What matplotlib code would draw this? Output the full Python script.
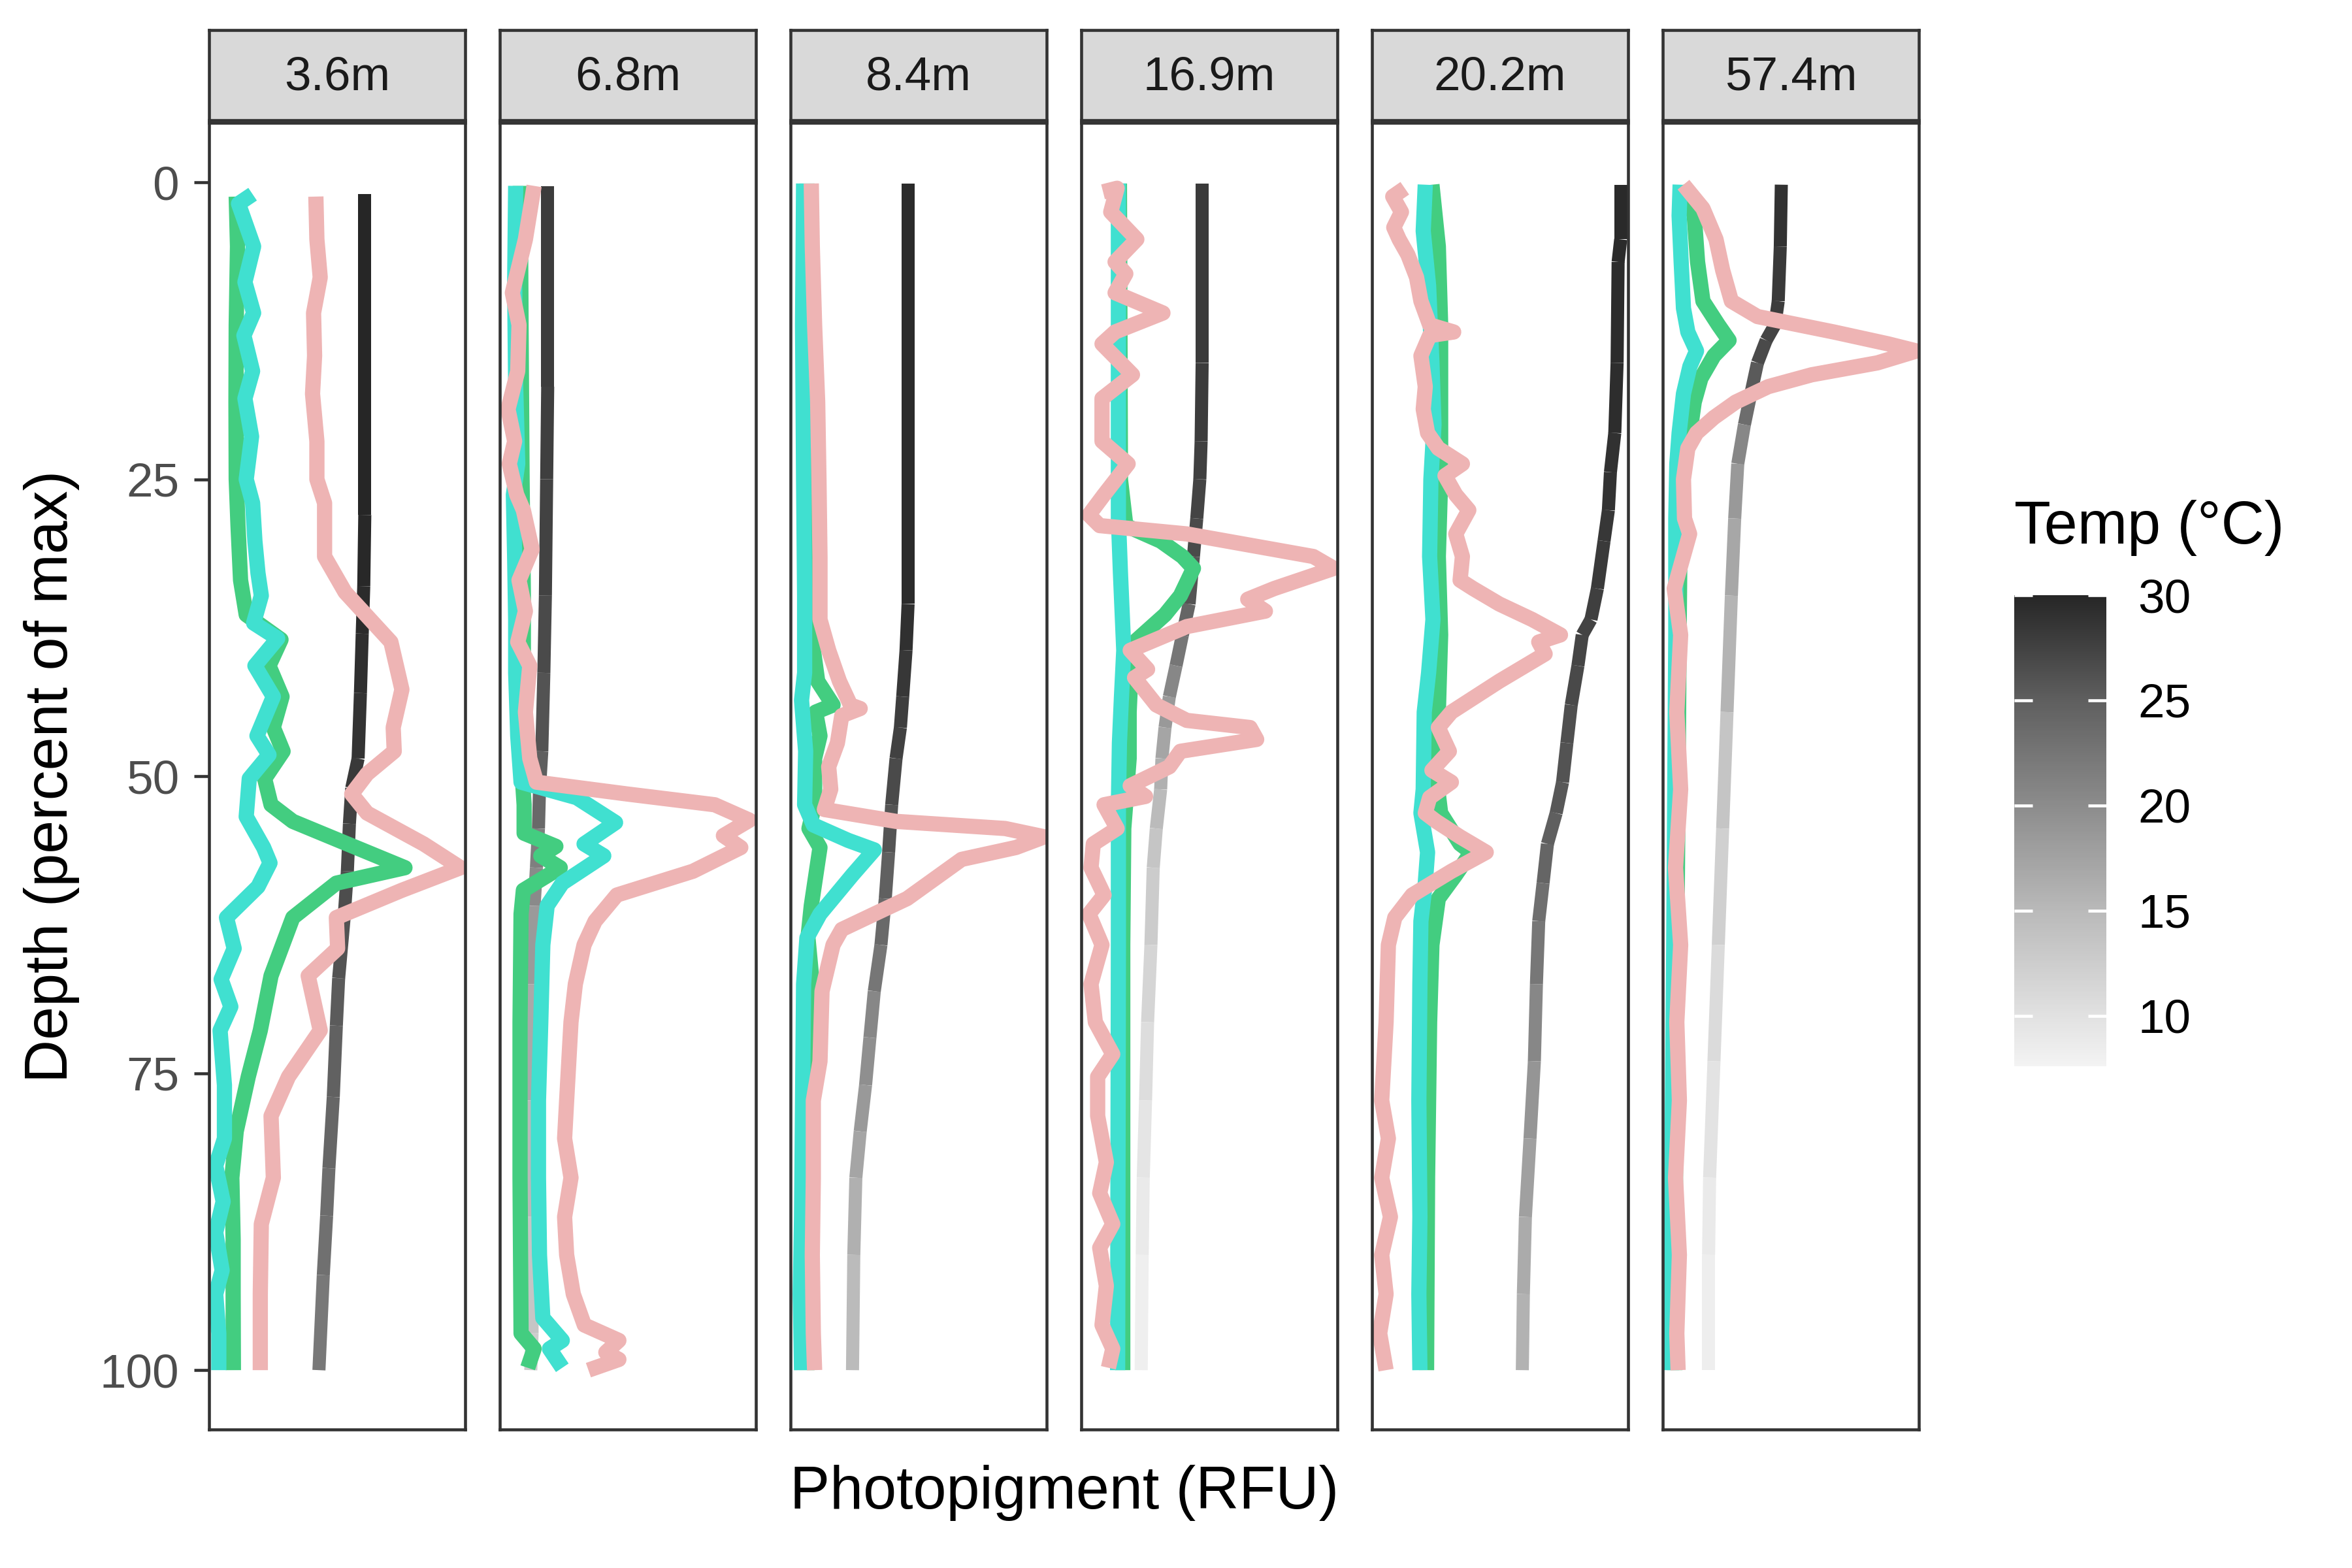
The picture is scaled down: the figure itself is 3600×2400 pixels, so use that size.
import numpy as np
import matplotlib.pyplot as plt
from matplotlib.collections import LineCollection
from matplotlib.colors import LinearSegmentedColormap, Normalize
from matplotlib.cm import ScalarMappable

plt.rcParams["font.family"] = ["Liberation Sans", "DejaVu Sans"]

# %% data
# x positions are relative to each panel (free x scale, no tick labels), 0-100

stations = ["3.6m", "6.8m", "8.4m", "16.9m", "20.2m", "57.4m"]

# temperature profile: (depth %, x, temp C)
temp_36 = [(1, 60.8, 30.0), (28, 60.8, 29.8), (34, 60.4, 29.5), (38, 59.8, 29.2), (43, 59.1, 28.8),
           (48.5, 58.2, 28.3), (51, 55.7, 27.6), (54, 54.8, 27.0), (58, 54.0, 26.5), (62, 52.7, 26.0),
           (67, 50.6, 25.3), (71, 49.7, 24.8), (77, 48.5, 24.2), (83, 46.8, 23.5), (87, 45.9, 23.0),
           (92, 44.6, 22.2), (100, 42.9, 21.3)]
temp_68 = [(0.3, 18.7, 28.0), (17.2, 18.7, 27.8), (25, 18.3, 27.5), (34.8, 17.8, 26.8), (41.3, 17.2, 26.0),
           (47.9, 16.4, 25.0), (51.1, 15.5, 23.8), (54.4, 15.1, 21.5), (57.7, 14.3, 20.2), (60.9, 13.4, 18.5),
           (67.5, 13.0, 16.8), (77.3, 12.6, 15.0), (87.1, 12.4, 13.5), (96.9, 12.6, 12.5), (100, 12.1, 12.3)]
temp_84 = [(0.1, 45.9, 29.5), (35.5, 45.9, 29.1), (39.4, 45.1, 28.5), (43.3, 43.8, 27.9), (45.9, 42.9, 27.6),
           (48.5, 41.2, 26.8), (52.4, 39.5, 25.9), (56.4, 38.3, 24.9), (60.3, 37.0, 23.8), (64.2, 35.3, 22.4),
           (68.1, 32.7, 20.5), (72.0, 31.0, 19.6), (76.0, 29.3, 18.6), (79.9, 27.2, 17.2), (83.8, 25.5, 16.0),
           (90.3, 24.7, 14.8), (100, 24.2, 14.2)]
temp_169 = [(0.1, 47.2, 28.2), (15.2, 47.2, 28.0), (21.8, 46.8, 27.7), (25, 46.3, 27.3), (28.3, 45.1, 26.8),
            (31.5, 43.8, 25.9), (35.5, 42.1, 24.3), (38.1, 39.5, 22.4), (40.7, 37.0, 20.5), (43.3, 34.4, 18.6),
            (45.9, 32.7, 17.2), (48.5, 31.5, 16.0), (51.1, 31.0, 14.8), (54.4, 29.3, 13.5), (57.7, 28.1, 12.6),
            (64.2, 27.2, 11.5), (70.7, 25.9, 10.5), (77.3, 25.1, 9.5), (83.8, 24.2, 8.8), (90.3, 23.8, 8.2),
            (100, 23.4, 7.8)]
temp_202 = [(0.2, 97.1, 29.6), (4.8, 97.1, 29.5), (6.7, 96.1, 29.4), (15.2, 95.7, 29.3), (21.1, 94.8, 29.0),
            (24.4, 93.1, 28.8), (27.6, 92.3, 28.5), (30.2, 90.6, 28.2), (34.2, 88.0, 27.8), (36.8, 85.5, 27.4),
            (38.1, 82.1, 27.2), (40.7, 80.4, 26.9), (44.0, 77.8, 26.4), (47.2, 76.1, 26.0), (50.5, 74.4, 25.6),
            (53.1, 71.9, 25.0), (55.7, 68.5, 24.3), (59.0, 66.8, 23.2), (62.2, 65.1, 22.3), (67.5, 64.2, 20.6),
            (74.0, 63.4, 19.0), (80.5, 61.7, 17.8), (87.1, 59.9, 16.6), (93.6, 59.1, 15.8), (100, 58.7, 15.3)]
temp_574 = [(0.2, 46.3, 28.9), (5.4, 45.9, 28.3), (10.0, 45.1, 28.0), (12.0, 43.8, 27.3), (13.3, 40.4, 26.8),
            (15.2, 37.0, 25.4), (17.8, 34.4, 23.4), (20.4, 31.9, 20.5), (23.7, 29.3, 18.6), (28.3, 28.1, 17.0),
            (34.8, 26.8, 15.5), (44.6, 25.1, 13.5), (54.4, 23.4, 12.1), (64.2, 21.7, 10.8), (74.0, 20.0, 9.8),
            (83.8, 18.3, 8.9), (90.3, 17.9, 8.3), (100, 17.9, 7.6)]

# pigment profiles: (depth %, x)
turq_36 = [(1.0, 17.0), (1.8, 11.5), (5.4, 17.4), (8.4, 14.0), (11.0, 17.4), (12.9, 13.6), (15.9, 17.0),
           (18.2, 14.0), (21.4, 16.6), (25.0, 14.5), (27.0, 17.0), (30.2, 17.9), (32.9, 19.1), (34.8, 20.4),
           (37.1, 17.4), (38.4, 26.8), (40.7, 17.9), (43.3, 25.1), (46.6, 18.7), (48.2, 23.4), (50.2, 15.7),
           (53.4, 14.5), (56.0, 21.3), (57.3, 23.8), (59.3, 19.1), (61.9, 6.8), (64.5, 9.8), (67.1, 4.7),
           (69.4, 8.5), (71.4, 4.3), (76.0, 6.0), (80.5, 6.0), (82.8, 2.6), (85.8, 5.5), (88.4, 2.6),
           (91.6, 5.1), (93.6, 2.6), (96.9, 3.8), (100, 3.8)]
green_36 = [(1.2, 10.6), (5.4, 11.1), (12.0, 10.6), (18.5, 10.5), (25.0, 10.6), (28.9, 11.3), (33.5, 12.3),
            (36.4, 14.5), (38.5, 28.1), (40.7, 23.4), (43.3, 28.5), (45.9, 25.1), (47.9, 28.9), (50.2, 21.7),
            (52.4, 24.2), (53.8, 32.7), (55.7, 54.0), (57.7, 76.5), (59.0, 49.7), (61.9, 32.7), (66.8, 24.2),
            (71.4, 20.0), (75.3, 15.3), (79.9, 10.6), (83.8, 8.9), (89.0, 9.4), (93.6, 9.4), (100, 9.5)]
pink_36 = [(1.2, 41.7), (4.8, 42.1), (8.0, 43.4), (11.0, 40.8), (14.6, 41.2), (17.8, 40.4), (21.8, 42.1),
           (25.0, 42.1), (27.0, 45.1), (31.5, 45.1), (34.5, 53.1), (38.7, 71.0), (42.7, 75.3), (45.9, 71.9),
           (47.9, 72.3), (49.8, 61.7), (51.5, 55.7), (53.1, 61.7), (55.7, 83.8), (57.7, 98.2), (59.6, 75.3),
           (61.9, 49.7), (64.5, 50.2), (66.8, 38.7), (71.4, 43.4), (75.3, 31.0), (78.6, 24.2), (83.8, 25.1),
           (87.7, 20.4), (93.6, 20.0), (100, 20.0)]

turq_68 = [(0.3, 6.2), (8.7, 5.8), (17.2, 6.2), (23.7, 7.0), (26.3, 5.3), (31.5, 5.8), (36.8, 6.2), (41.3, 6.2),
           (46.6, 7.0), (50.5, 8.3), (51.8, 30.0), (53.9, 45.2), (55.7, 32.9), (56.7, 40.6), (59.0, 24.4),
           (60.9, 18.5), (64.2, 16.8), (70.7, 16.0), (77.3, 15.1), (83.8, 15.1), (90.3, 15.5), (95.6, 16.8),
           (97.5, 24.4), (98.2, 19.4), (99.8, 24.4)]
green_68 = [(0.3, 8.0), (12.0, 8.3), (25.0, 8.7), (34.8, 9.2), (41.3, 9.2), (49.8, 8.7), (52.4, 9.5),
            (54.8, 9.5), (55.9, 21.9), (56.7, 16.0), (57.7, 23.6), (59.6, 9.2), (61.6, 8.3), (70.7, 7.9),
            (83.8, 7.9), (96.9, 8.3), (98.2, 13.4), (99.8, 10.9)]
pink_68 = [(0.3, 13.4), (4.8, 10.0), (9.3, 4.9), (12.0, 7.5), (15.9, 7.0), (19.1, 3.2), (21.8, 5.8), (23.7, 3.7),
           (26.3, 6.6), (27.6, 9.2), (30.9, 12.6), (33.5, 7.5), (36.1, 10.0), (38.7, 7.0), (40.7, 11.7),
           (44.6, 10.0), (48.5, 11.7), (50.5, 14.3), (51.5, 49.9), (52.4, 83.9), (53.7, 97.5), (55.0, 87.3),
           (56.0, 94.1), (58.0, 75.4), (60.0, 45.7), (62.2, 37.2), (64.2, 32.9), (67.5, 29.5), (70.7, 27.8),
           (77.3, 26.1), (80.5, 25.3), (83.8, 27.8), (87.1, 25.3), (90.3, 26.1), (93.6, 28.7), (96.2, 33.0),
           (97.5, 46.5), (98.5, 41.4), (99.1, 46.5), (100, 34.6)]

turq_84 = [(0.1, 5.1), (12, 4.7), (25, 5.1), (34.8, 5.5), (41.3, 5.5), (43.6, 4.3), (47.9, 5.9), (52.4, 5.5),
           (54.1, 8.9), (55.4, 22.5), (56.2, 32.7), (58.3, 24.2), (61.6, 11.5), (63.6, 6.4), (67.5, 5.1),
           (77.3, 4.7), (87.1, 4.3), (93.6, 3.8), (100, 4.3)]
green_84 = [(0.1, 6.4), (25, 6.8), (38.1, 8.1), (42.0, 10.6), (44.0, 16.6), (44.6, 9.8), (46.6, 11.5),
            (48.5, 9.4), (52.4, 9.4), (54.4, 7.2), (56.0, 11.5), (60.9, 8.1), (63.6, 6.8), (67.5, 8.5),
            (74.0, 8.1), (77.3, 7.2), (100, 6.4)]
pink_84 = [(0.1, 8.1), (5.4, 8.5), (12, 9.4), (18.5, 10.6), (25, 11.1), (31.5, 11.5), (36.8, 11.5), (39.4, 14.9),
           (42.0, 19.1), (44.0, 23.4), (44.3, 27.2), (44.9, 20.0), (47.2, 18.3), (49.2, 14.9), (51.1, 15.7),
           (52.8, 13.2), (53.8, 41.2), (54.4, 83.8), (55.1, 99.1), (56.0, 88.0), (57.0, 66.8), (60.3, 45.5),
           (61.6, 32.7), (62.9, 20.0), (64.2, 16.6), (68.1, 12.3), (74.0, 11.5), (77.3, 8.9), (83.8, 8.9),
           (90.3, 8.5), (96.9, 8.9), (100, 9.4)]

turq_169 = [(0.1, 14.5), (28.3, 14.5), (32.9, 15.3), (39.4, 16.6), (43.3, 15.7), (47.2, 14.9), (52.4, 14.5),
            (64.2, 14.5), (100, 14.2)]
green_169 = [(0.1, 14.9), (25.0, 15.3), (28.9, 17.4), (30.2, 31.0), (31.5, 39.5), (32.5, 43.8), (34.8, 38.7),
             (36.4, 32.7), (38.7, 20.8), (40.7, 19.5), (44.6, 18.7), (48.5, 18.7), (54.4, 16.6), (64.2, 16.2),
             (100, 16.2)]
pink_169 = [(0.8, 8.5), (0.5, 14.0), (2.5, 11.5), (4.8, 21.7), (6.7, 13.2), (7.7, 17.4), (9.3, 13.2),
            (11.0, 31.9), (12.6, 13.2), (13.6, 8.1), (16.2, 20.0), (18.2, 8.1), (21.8, 8.1), (23.7, 18.3),
            (26.3, 8.9), (28.0, 3.0), (28.9, 7.2), (29.6, 41.2), (31.5, 90.6), (32.5, 98.6), (34.2, 75.3),
            (35.1, 65.0), (36.1, 71.9), (37.4, 41.2), (39.4, 19.1), (41.0, 25.9), (41.7, 20.8), (44.0, 29.3),
            (45.3, 41.2), (45.9, 65.9), (46.9, 68.5), (47.9, 38.7), (49.2, 34.4), (50.8, 19.1), (51.7, 25.1),
            (52.4, 8.9), (54.4, 14.0), (55.7, 4.7), (57.7, 3.8), (60.0, 8.9), (61.6, 3.0), (64.2, 8.1),
            (67.5, 3.8), (70.7, 5.5), (73.4, 12.3), (75.3, 6.4), (78.6, 6.4), (82.5, 9.8), (85.1, 7.2),
            (87.7, 12.3), (89.7, 7.2), (92.9, 9.8), (96.2, 8.1), (98.2, 12.3), (99.8, 10.6)]

turq_202 = [(0.2, 20.8), (4.1, 20.0), (8.7, 22.1), (15.2, 23.4), (20.4, 24.2), (25.0, 23.0), (31.5, 22.5),
            (36.8, 23.8), (41.3, 22.1), (44.6, 20.4), (51.1, 20.0), (53.1, 19.1), (56.4, 21.7), (59.0, 20.8),
            (62.2, 19.1), (67.5, 18.7), (77.3, 18.3), (87.1, 18.7), (93.6, 18.3), (100, 18.7)]
green_202 = [(0.2, 23.4), (5.4, 25.9), (12.0, 26.8), (18.5, 26.8), (25.0, 26.8), (31.5, 25.9), (38.1, 26.8),
             (44.6, 25.9), (48.5, 24.2), (53.1, 26.8), (55.7, 34.4), (56.4, 38.7), (58.3, 32.7), (60.3, 25.9),
             (64.2, 23.4), (70.7, 22.5), (83.8, 21.7), (100, 21.3)]
pink_202 = [(0.5, 12.8), (1.2, 8.1), (2.5, 11.5), (3.8, 8.5), (4.8, 10.6), (6.1, 14.0), (8.0, 17.4), (10.0, 19.1),
            (12.0, 22.5), (12.6, 31.9), (12.9, 22.5), (14.6, 19.1), (17.2, 20.8), (19.1, 20.0), (21.1, 21.7),
            (22.4, 25.9), (23.7, 35.3), (24.7, 28.5), (26.3, 32.7), (27.6, 37.8), (29.6, 32.7), (31.5, 35.3),
            (33.5, 34.4), (34.2, 39.5), (35.5, 49.7), (36.8, 62.5), (38.1, 73.6), (38.7, 65.1), (39.7, 67.6),
            (42.0, 49.7), (44.6, 31.0), (45.9, 25.9), (47.9, 30.2), (49.5, 23.4), (50.5, 31.0), (51.8, 22.5),
            (53.1, 20.8), (53.8, 25.1), (55.1, 34.4), (56.4, 44.6), (58.0, 31.0), (60.0, 15.7), (61.9, 8.9),
            (64.2, 6.4), (70.7, 5.5), (77.3, 3.8), (80.5, 6.4), (83.8, 3.8), (87.1, 7.2), (90.3, 3.8),
            (93.6, 5.5), (96.9, 3.0), (100, 5.5)]

turq_574 = [(0.2, 6.8), (2.8, 6.4), (6.7, 7.2), (10.6, 8.1), (12.6, 9.8), (14.2, 13.2), (15.5, 10.6), (17.8, 8.1),
            (21.1, 6.4), (23.7, 5.5), (28.3, 5.1), (38.1, 5.1), (51.1, 4.7), (64.2, 4.3), (77.3, 3.8),
            (90.3, 3.4), (100, 3.4)]
green_574 = [(0.2, 8.1), (2.8, 12.3), (6.7, 13.6), (10.0, 15.7), (12.0, 21.7), (13.3, 25.9), (14.6, 20.0),
             (16.5, 14.9), (18.5, 12.3), (21.1, 10.6), (23.7, 8.1), (28.3, 6.8), (38.1, 6.4), (51.1, 6.0),
             (64.2, 5.5), (77.3, 5.1), (100, 4.7)]
pink_574 = [(0.2, 8.1), (2.2, 15.7), (4.8, 20.8), (7.4, 23.4), (10.0, 26.8), (11.3, 37.0), (12.6, 66.8),
            (13.6, 88.0), (14.2, 99.1), (15.2, 83.8), (16.2, 58.2), (17.2, 41.2), (18.5, 28.5), (19.8, 20.0),
            (21.1, 13.2), (22.4, 9.8), (25.0, 8.1), (28.3, 8.5), (29.6, 10.5), (34.2, 4.5), (38.1, 7.0),
            (44.6, 5.5), (51.1, 7.0), (57.7, 5.0), (64.2, 7.0), (70.7, 5.5), (77.3, 6.5), (83.8, 5.0),
            (90.3, 6.5), (96.9, 5.5), (100, 6.0)]

temps = [temp_36, temp_68, temp_84, temp_169, temp_202, temp_574]
turqs = [turq_36, turq_68, turq_84, turq_169, turq_202, turq_574]
greens = [green_36, green_68, green_84, green_169, green_202, green_574]
pinks = [pink_36, pink_68, pink_84, pink_169, pink_202, pink_574]

depth_ticks = [0, 25, 50, 75, 100]
temp_ticks = [10, 15, 20, 25, 30]
# grey ramp as seen in the legend
grey_stops = [(7.6, "#F3F3F3"), (10, "#E1E1E1"), (15, "#B9B9B9"), (20, "#8C8C8C"), (25, "#5F5F5F"), (30, "#262626")]

# %% colours / scale

all_t = np.concatenate([np.array(t)[:, 2] for t in temps])
tmin, tmax = all_t.min(), all_t.max()
cmap = LinearSegmentedColormap.from_list(
    "temp", [((t - tmin) / (tmax - tmin), c) for t, c in grey_stops])
norm = Normalize(tmin, tmax)

col_turq = "#40E0D0"
col_green = "#43CD80"
col_pink = "#EEB4B4"
edge = "#333333"

# %% plot

fig = plt.figure(figsize=(12, 8), dpi=300)

pan_w = 392 / 3600
pan_bottom, pan_h = 0.0883, 0.8333

for i, st in enumerate(stations):
    left = (320 + 445 * i) / 3600
    ax = fig.add_axes([left, pan_bottom, pan_w, pan_h])

    tp = np.array(temps[i])
    pts = tp[:, [1, 0]]
    segs = np.stack([pts[:-1], pts[1:]], axis=1)
    lc = LineCollection(segs, cmap=cmap, norm=norm, linewidths=4.8, capstyle="butt", joinstyle="round")
    lc.set_array(tp[:-1, 2])
    ax.add_collection(lc)

    for prof, col in [(greens[i], col_green), (turqs[i], col_turq), (pinks[i], col_pink)]:
        p = np.array(prof)
        ax.plot(p[:, 1], p[:, 0], color=col, lw=5.6, solid_capstyle="butt", solid_joinstyle="round")

    ax.set_xlim(0, 100)
    ax.set_ylim(105, -5)
    ax.set_xticks([])
    if i == 0:
        ax.set_yticks(depth_ticks)
        ax.tick_params(axis="y", labelsize=17.5, labelcolor="#4D4D4D", length=5.5, width=1.1,
                       color=edge, pad=5.5)
    else:
        ax.set_yticks([])
    for s in ax.spines.values():
        s.set_color(edge)
        s.set_linewidth(1.1)

    # facet strip
    sax = fig.add_axes([left, 0.9233, pan_w, 0.0575])
    sax.set_facecolor("#D9D9D9")
    sax.set_xticks([])
    sax.set_yticks([])
    for s in sax.spines.values():
        s.set_color(edge)
        s.set_linewidth(1.1)
    sax.text(0.5, 0.47, st, ha="center", va="center", fontsize=17.5, color="#1A1A1A", transform=sax.transAxes)

fig.text(0.4524, 0.048, "Photopigment (RFU)", ha="center", va="center", fontsize=22)
fig.text(0.022, 0.505, "Depth (percent of max)", ha="center", va="center", rotation=90, fontsize=22)

# colour bar legend
cax = fig.add_axes([0.8564, 0.32, 0.0392, 0.3004])
sm = ScalarMappable(norm=norm, cmap=cmap)
cb = fig.colorbar(sm, cax=cax)
cb.outline.set_visible(False)
cb.set_ticks(temp_ticks)
cax.tick_params(length=0, labelsize=17.5, pad=11.5)
tr = cax.get_yaxis_transform()
cax.hlines(temp_ticks, 0, 0.2, colors="white", lw=1.1, transform=tr)
cax.hlines(temp_ticks, 0.8, 1.0, colors="white", lw=1.1, transform=tr)
fig.text(0.8564, 0.6633, "Temp (°C)", ha="left", va="center", fontsize=22)

fig.savefig("out.png", dpi=300)
